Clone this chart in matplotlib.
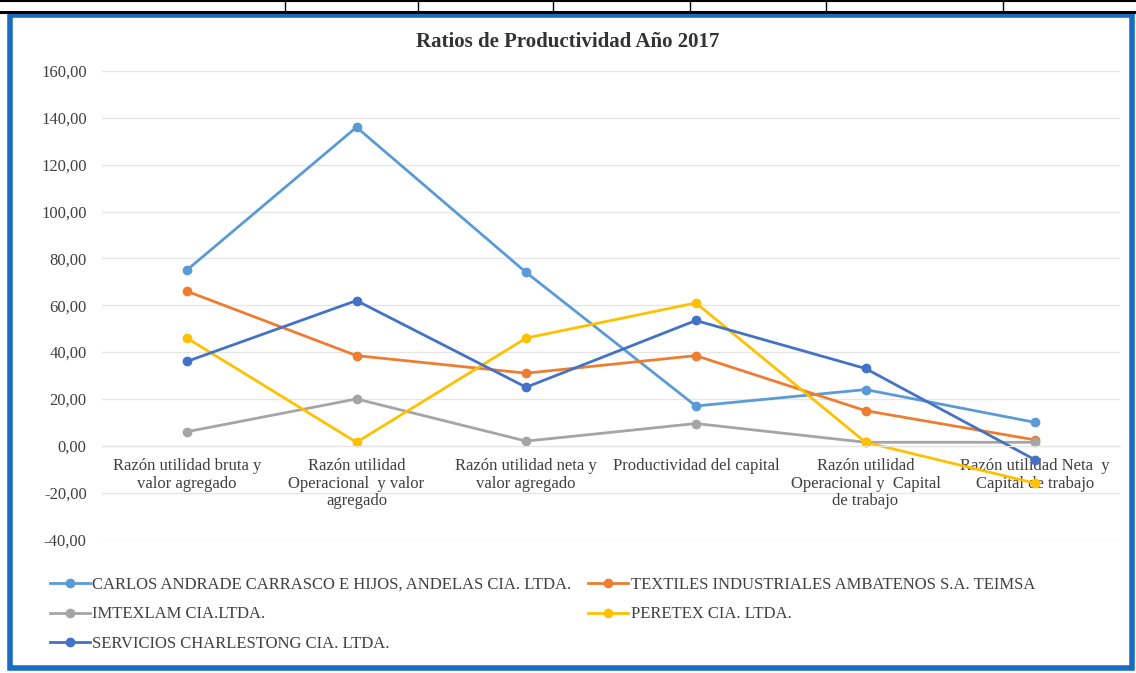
import matplotlib.pyplot as plt
from matplotlib.patches import Rectangle
from matplotlib.lines import Line2D

plt.rcParams["font.family"] = ["Liberation Serif", "DejaVu Serif"]

categories = [
    "Razón utilidad bruta y\nvalor agregado",
    "Razón utilidad\nOperacional  y valor\nagregado",
    "Razón utilidad neta y\nvalor agregado",
    "Productividad del capital",
    "Razón utilidad\nOperacional y  Capital\nde trabajo",
    "Razón utilidad Neta  y\nCapital de trabajo",
]
names = [
    "CARLOS ANDRADE CARRASCO E HIJOS, ANDELAS CIA. LTDA.",
    "TEXTILES INDUSTRIALES AMBATENOS S.A. TEIMSA",
    "IMTEXLAM CIA.LTDA.",
    "PERETEX CIA. LTDA.",
    "SERVICIOS CHARLESTONG CIA. LTDA.",
]
carlos = [75.0, 136.0, 74.0, 17.0, 24.0, 10.0]
textiles = [66.0, 38.5, 31.0, 38.5, 15.0, 2.5]
imtexlam = [6.0, 20.0, 2.0, 9.5, 1.5, 1.5]
peretex = [46.0, 1.5, 46.0, 61.0, 1.5, -16.0]
servicios = [36.0, 62.0, 25.0, 53.5, 33.0, -6.0]
yticks = [-40, -20, 0, 20, 40, 60, 80, 100, 120, 140, 160]

series = [carlos, textiles, imtexlam, peretex, servicios]
colors = ["#5B9BD5", "#ED7D31", "#A5A5A5", "#FFC000", "#4472C4"]

fig = plt.figure(figsize=(11.36, 6.73), dpi=100)

# table row above the chart
fig.add_artist(Line2D([0, 1], [0.999, 0.999], color="black", lw=1.5))
fig.add_artist(Line2D([0, 1], [1 - 12 / 673, 1 - 12 / 673], color="black", lw=2.2))
for px in [285, 418, 553, 690, 826, 1003]:
    fig.add_artist(Line2D([px / 1136, px / 1136], [1 - 12 / 673, 1], color="black", lw=1))

# blue chart frame
fig.add_artist(Rectangle((10 / 1136, 5 / 673), 1122 / 1136, 653 / 673,
                         fill=False, edgecolor="#1A6CC0", lw=4))

ax = fig.add_axes([102 / 1136, 1 - 539.5 / 673, 1018 / 1136, 468.5 / 673])
# move the category axis to y=0 first (this resets the ticks)
for s in ["top", "right", "left"]:
    ax.spines[s].set_visible(False)
ax.spines["bottom"].set_position(("data", 0))
ax.spines["bottom"].set_color("#E6E6E6")

x = range(len(categories))
for vals, name, c in zip(series, names, colors):
    ax.plot(x, vals, color=c, lw=2, marker="o", markersize=6, label=name)

ax.set_xlim(-0.5, 5.5)
ax.set_ylim(-40, 160)
ax.set_yticks(yticks)
ax.set_yticklabels([f"{v:.2f}".replace(".", ",") for v in yticks], fontsize=12, color="#404040")
ax.set_xticks(list(x))
ax.set_xticklabels(categories, fontsize=12, color="#404040", linespacing=1.1)
ax.grid(axis="y", color="#E6E6E6", lw=1)
ax.set_axisbelow(True)
ax.xaxis.set_zorder(1)  # category labels above the gridlines, below the series
ax.tick_params(length=0, pad=9)
ax.tick_params(axis="y", pad=11)

fig.text(0.5, 1 - 42 / 673, "Ratios de Productividad Año 2017", ha="center", va="center",
         fontsize=15, fontweight="bold", color="#333333")

h, l = ax.get_legend_handles_labels()
order = [0, 2, 4, 1, 3]
fig.legend([h[i] for i in order], [l[i] for i in order], ncol=2,
           loc="upper left", bbox_to_anchor=(35 / 1136, 1 - 562 / 673),
           frameon=False, fontsize=12, handlelength=2.4, handletextpad=0.15,
           labelspacing=0.8, columnspacing=1.0, labelcolor="#404040")

fig.savefig("out.png", dpi=100)
